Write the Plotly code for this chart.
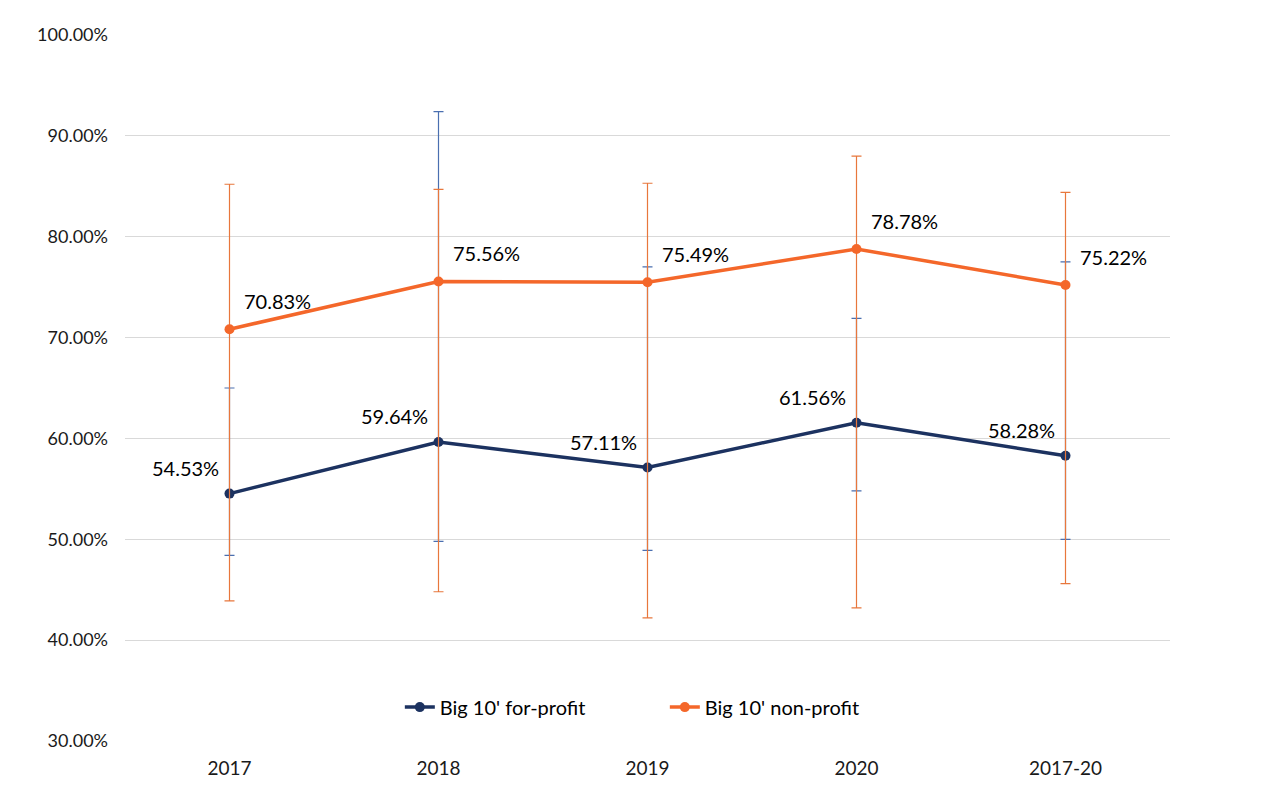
import plotly.graph_objects as go

categories = ["2017", "2018", "2019", "2020", "2017-20"]
for_profit = [54.53, 59.64, 57.11, 61.56, 58.28]
for_profit_hi = [65.0, 92.4, 77.0, 71.9, 77.5]
for_profit_lo = [48.4, 49.8, 48.9, 54.8, 50.0]
non_profit = [70.83, 75.56, 75.49, 78.78, 75.22]
non_profit_hi = [85.2, 84.7, 85.3, 88.0, 84.4]
non_profit_lo = [43.9, 44.8, 42.2, 43.2, 45.6]
y_ticks = [30, 40, 50, 60, 70, 80, 90, 100]

NAVY = "#1c3260"
ORANGE = "#f4672a"
FONT = "Lato, 'Open Sans', sans-serif"

fig = go.Figure()

def add_series(name, vals, hi, lo, color, err_color):
    fig.add_trace(go.Scatter(
        x=categories, y=vals, name=name, mode="lines+markers",
        line=dict(color=color, width=3.5),
        marker=dict(color=color, size=10),
        error_y=dict(type="data", symmetric=False,
                     array=[h - v for h, v in zip(hi, vals)],
                     arrayminus=[v - l for v, l in zip(vals, lo)],
                     color=err_color, thickness=1.2, width=5),
    ))

add_series("Big 10' for-profit", for_profit, for_profit_hi, for_profit_lo, NAVY, "#4a6fb0")
add_series("Big 10' non-profit", non_profit, non_profit_hi, non_profit_lo, ORANGE, "#e8773c")

for i, v in enumerate(for_profit):
    fig.add_annotation(x=i, y=v, xref="x", yref="y", text=f"{v:.2f}%", showarrow=False,
                       xshift=-44, yshift=26, font=dict(family=FONT, size=20, color="#000"))
for i, v in enumerate(non_profit):
    fig.add_annotation(x=i, y=v, xref="x", yref="y", text=f"{v:.2f}%", showarrow=False,
                       xshift=48, yshift=28, font=dict(family=FONT, size=20, color="#000"))

fig.add_shape(type="line", xref="paper", yref="paper", x0=-0.113, x1=-0.113,
              y0=-0.08, y1=1.05, line=dict(color="#d0d0d0", width=1.5))

# page body has an 8px default margin, so offsets compensate
fig.update_layout(
    width=1271, height=796,
    margin=dict(l=117, r=109, t=27, b=63, autoexpand=False),
    paper_bgcolor="white", plot_bgcolor="white",
    font=dict(family=FONT, size=19, color="#1a1a1a"),
    showlegend=True,
    legend=dict(orientation="h", x=0.263, xanchor="left", y=0.048, yanchor="middle",
                font=dict(family=FONT, size=20, color="#000"),
                bgcolor="rgba(0,0,0,0)", itemwidth=30, entrywidth=220,
                entrywidthmode="pixels"),
    xaxis=dict(type="category", range=[-0.5, 4.5], showgrid=False, zeroline=False,
               showline=False, ticks="", ticklabelstandoff=14,
               tickfont=dict(size=19, color="#1a1a1a")),
    yaxis=dict(range=[30, 100], tickvals=y_ticks,
               ticktext=[f"{t:.2f}%" for t in y_ticks],
               showgrid=True, gridcolor="#d9d9d9", gridwidth=1,
               zeroline=False, showline=False, ticks="", ticklen=0,
               ticklabelstandoff=16,
               tickfont=dict(size=18, color="#1a1a1a")),
)

fig.write_html("out.html")
